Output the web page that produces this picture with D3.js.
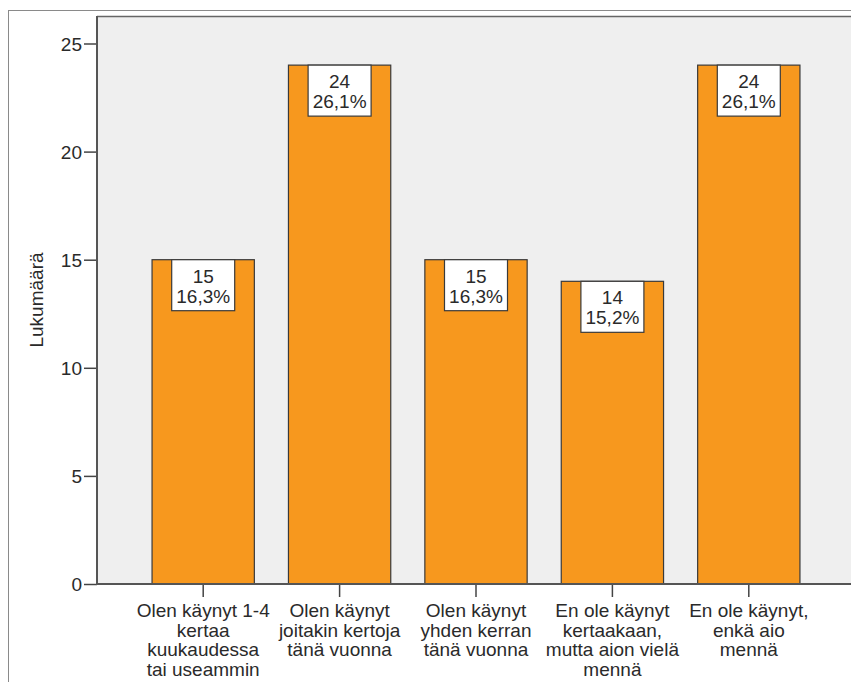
<!DOCTYPE html>
<html>
<head>
<meta charset="utf-8">
<script src="https://cdn.jsdelivr.net/npm/d3@7"></script>
<style>
  html, body { margin: 0; padding: 0; background: #ffffff; }
  svg { display: block; }
  text { font-family: "Liberation Sans", Arial, sans-serif; fill: #2a2a2a; }
</style>
</head>
<body>
<svg id="chart" width="851" height="682"></svg>
<script>
// Response categories (each entry is the wrapped label lines)
const categories = [
  ["Olen käynyt 1-4", "kertaa", "kuukaudessa", "tai useammin"],
  ["Olen käynyt", "joitakin kertoja", "tänä vuonna"],
  ["Olen käynyt", "yhden kerran", "tänä vuonna"],
  ["En ole käynyt", "kertaakaan,", "mutta aion vielä", "mennä"],
  ["En ole käynyt,", "enkä aio", "mennä"]
];
const counts = [15, 24, 15, 14, 24];
const percents = ["16,3%", "26,1%", "16,3%", "15,2%", "26,1%"];
const yTicks = [0, 5, 10, 15, 20, 25];
const yTitle = "Lukumäärä";

const svg = d3.select("#chart");
const fontSize = 19;

// outer frame
svg.append("line")
  .attr("x1", 8).attr("x2", 851).attr("y1", 10.5).attr("y2", 10.5)
  .attr("stroke", "#8a8a8a").attr("stroke-width", 1);
svg.append("line")
  .attr("x1", 8.5).attr("x2", 8.5).attr("y1", 10).attr("y2", 682)
  .attr("stroke", "#8a8a8a").attr("stroke-width", 1);

const plotLeft = 97, plotTop = 16, plotBottom = 584, plotRight = 900;

const y = d3.scaleLinear().domain([0, 25]).range([plotBottom, 43.5]);
const x = d3.scaleBand()
  .domain(d3.range(categories.length))
  .range([135, 817])
  .paddingInner(0.25)
  .paddingOuter(0.125);

// plot background
svg.append("rect")
  .attr("x", plotLeft).attr("y", plotTop)
  .attr("width", plotRight - plotLeft).attr("height", plotBottom - plotTop)
  .attr("fill", "#efefef");

// plot top border
svg.append("line")
  .attr("x1", plotLeft).attr("x2", plotRight)
  .attr("y1", plotTop + 0.5).attr("y2", plotTop + 0.5)
  .attr("stroke", "#666").attr("stroke-width", 1.5);

// bars
svg.append("g").selectAll("rect")
  .data(counts)
  .join("rect")
  .attr("x", (d, i) => x(i))
  .attr("y", d => y(d))
  .attr("width", x.bandwidth())
  .attr("height", d => y(0) - y(d))
  .attr("fill", "#f7981e")
  .attr("stroke", "#3a3a3a")
  .attr("stroke-width", 1.2);

// value labels in boxes
const boxW = 63, boxH = 51;
const labels = svg.append("g").selectAll("g")
  .data(counts)
  .join("g")
  .attr("transform", (d, i) => `translate(${x(i) + x.bandwidth() / 2},${y(d)})`);
labels.append("rect")
  .attr("x", -boxW / 2).attr("y", 0)
  .attr("width", boxW).attr("height", boxH)
  .attr("fill", "#ffffff").attr("stroke", "#3a3a3a").attr("stroke-width", 1.2);
labels.append("text")
  .attr("text-anchor", "middle").attr("y", 23)
  .style("font-size", fontSize + "px")
  .text(d => d);
labels.append("text")
  .attr("text-anchor", "middle").attr("y", 43)
  .style("font-size", fontSize + "px")
  .text((d, i) => percents[i]);

// y axis
const yAxis = svg.append("g")
  .attr("transform", `translate(${plotLeft},0)`)
  .call(d3.axisLeft(y).tickValues(yTicks).tickSize(13).tickPadding(2).tickSizeOuter(0));
yAxis.select(".domain").remove();
yAxis.selectAll(".tick line").attr("stroke", "#444").attr("stroke-width", 1.5);
yAxis.selectAll(".tick text")
  .style("font-size", fontSize + "px")
  .style("font-family", "'Liberation Sans', Arial, sans-serif")
  .attr("fill", "#2a2a2a")
  .attr("dy", "0.36em");
svg.append("line")
  .attr("x1", plotLeft).attr("x2", plotLeft)
  .attr("y1", plotTop).attr("y2", plotBottom + 1)
  .attr("stroke", "#555").attr("stroke-width", 2);

// x axis
const xAxis = svg.append("g")
  .attr("transform", `translate(0,${plotBottom})`)
  .call(d3.axisBottom(x).tickSize(13).tickSizeOuter(0).tickFormat(""));
xAxis.select(".domain").remove();
xAxis.selectAll(".tick line").attr("stroke", "#444").attr("stroke-width", 1.5);
svg.append("line")
  .attr("x1", plotLeft).attr("x2", plotRight)
  .attr("y1", plotBottom).attr("y2", plotBottom)
  .attr("stroke", "#555").attr("stroke-width", 2);

// category labels
const catG = svg.append("g").selectAll("text")
  .data(categories)
  .join("text")
  .attr("text-anchor", "middle")
  .style("font-size", fontSize + "px")
  .attr("transform", (d, i) => `translate(${x(i) + x.bandwidth() / 2},617)`);
catG.selectAll("tspan")
  .data(d => d)
  .join("tspan")
  .attr("x", 0)
  .attr("y", (d, j) => j * 19.7)
  .text(d => d);

// y axis title
svg.append("text")
  .attr("text-anchor", "middle")
  .style("font-size", fontSize + "px")
  .attr("transform", `translate(43,${(plotTop + plotBottom) / 2}) rotate(-90)`)
  .text(yTitle);
</script>
</body>
</html>
